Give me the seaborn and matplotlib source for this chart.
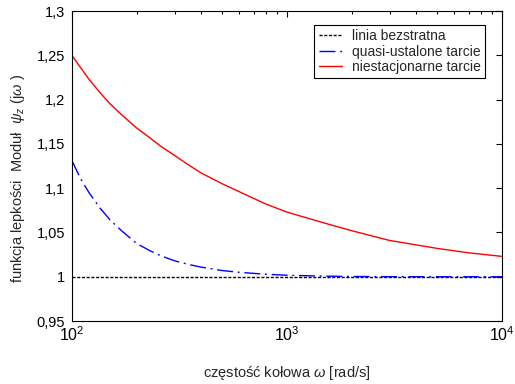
import numpy as np
import pandas as pd
import seaborn as sns
import matplotlib
matplotlib.use("Agg")
import matplotlib.pyplot as plt
from matplotlib.ticker import FuncFormatter, FixedLocator, LogLocator, NullFormatter

# frequency grid [rad/s]
OMEGA = [100, 110, 120, 135, 150, 170, 200, 230, 260, 300, 350, 400, 500, 600,
         800, 1000, 1500, 2000, 3000, 5000, 7000, 10000]

# modulus
LOSSLESS = [1.0] * len(OMEGA)
QUASI_STEADY = [1.131, 1.110, 1.095, 1.0775, 1.0645, 1.052, 1.0375, 1.0295,
                1.0235, 1.018, 1.0138, 1.0108, 1.007, 1.005, 1.0028, 1.0017,
                1.0007, 1.0003, 1.0001, 1.0, 1.0, 1.0]
UNSTEADY = [1.25, 1.2357, 1.223, 1.208, 1.1955, 1.183, 1.168, 1.157, 1.147,
            1.137, 1.126, 1.117, 1.105, 1.096, 1.082, 1.073, 1.0605, 1.052,
            1.041, 1.032, 1.027, 1.023]

LABELS = ['linia bezstratna', 'quasi-ustalone tarcie', 'niestacjonarne tarcie']
Y_TICKS = [0.95, 1.0, 1.05, 1.1, 1.15, 1.2, 1.25, 1.3]
X_TICKS = [100, 1000, 10000]
X_TICK_LABELS = ['$10^{2}$', '$10^{3}$', '$10^{4}$']

sns.set_style('white')
plt.rcParams['font.family'] = ['Liberation Sans', 'DejaVu Sans']
plt.rcParams['mathtext.fontset'] = 'custom'
plt.rcParams['mathtext.rm'] = 'Liberation Sans'
plt.rcParams['mathtext.it'] = 'Liberation Sans:italic'

fig = plt.figure(figsize=(5.15, 3.84), dpi=100)
ax = fig.add_axes([0.1398, 0.164, 0.835, 0.807])

# MATLAB-like dash patterns
series = [(LOSSLESS, 'black', (0, (2.2, 1.2))),
          (QUASI_STEADY, 'blue', (0, (11.5, 3.4, 1.4, 3.4))),
          (UNSTEADY, 'red', '-')]
for (vals, col, ls), lab in zip(series, LABELS):
    df = pd.DataFrame({'omega': OMEGA, 'modul': vals})
    sns.lineplot(data=df, x='omega', y='modul', ax=ax, color=col, linestyle=ls,
                 linewidth=1.0, label=lab)

ax.set_xscale('log')
ax.set_xlim(100, 10000)
ax.set_ylim(0.95, 1.3)

ax.xaxis.set_major_locator(FixedLocator(X_TICKS))
ax.set_xticklabels(X_TICK_LABELS)
ax.xaxis.set_minor_locator(LogLocator(base=10, subs=np.arange(2, 10)))
ax.xaxis.set_minor_formatter(NullFormatter())
ax.yaxis.set_major_locator(FixedLocator(Y_TICKS))
ax.yaxis.set_major_formatter(FuncFormatter(lambda v, p: ('%g' % round(v, 2)).replace('.', ',')))

ax.tick_params(which='both', direction='in', top=True, right=True, colors='black')
ax.tick_params(which='major', length=4, width=0.8, pad=5)
ax.tick_params(which='minor', length=2.5, width=0.8)
ax.tick_params(axis='y', which='major', labelsize=10.5)
ax.tick_params(axis='x', which='major', labelsize=11.5, pad=3)
for s in ax.spines.values():
    s.set_color('black')
    s.set_linewidth(0.8)

ax.set_xlabel('częstość kołowa $\\omega$ [rad/s]', fontsize=10.5)
ax.xaxis.set_label_coords(0.5, -0.139)
ax.set_ylabel('funkcja lepkości  Moduł  $\\psi_z$ (j$\\omega$ )', fontsize=10.5)
ax.yaxis.set_label_coords(-0.105, 0.461)

leg = ax.legend(loc='upper right', bbox_to_anchor=(0.9605, 0.955), fontsize=10,
                frameon=True, fancybox=False, framealpha=1, edgecolor='black',
                handlelength=1.7, handletextpad=0.7, borderpad=0.3,
                labelspacing=0.1, borderaxespad=0)
leg.get_frame().set_linewidth(0.8)

fig.savefig('out.png', dpi=100)
